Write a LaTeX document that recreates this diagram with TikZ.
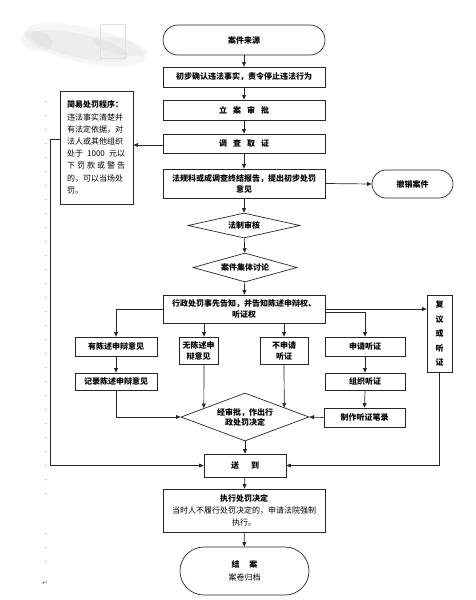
\documentclass[tikz,border=0pt]{standalone}
\usepackage{fontspec}
\setmainfont{Noto Sans CJK SC}
\newfontfamily\dejavu{DejaVu Sans}
\usetikzlibrary{shapes.geometric,arrows.meta,calc}
\begin{document}
\begin{tikzpicture}[x=1pt,y=-1pt,
  txt/.style={font=\fontsize{8}{11}\selectfont\bfseries},
  box/.style={draw=black!85, line width=0.7pt, rectangle, inner sep=0pt, align=center, txt},
  term/.style={box, rounded corners=#1},
  dia/.style={draw=black!85, line width=0.7pt, diamond, aspect=#1, inner sep=0pt, align=center, txt},
  ln/.style={draw=black!85, line width=0.7pt},
  arr/.style={ln, -{Triangle[length=4.5pt,width=3.8pt]}},
  pmark/.style={font=\dejavu\fontsize{4}{4}\selectfont, text=black!35, inner sep=0pt}
]
\useasboundingbox (0,0) rectangle (476,600);

% faint smudge at top left
\begin{scope}[shift={(85,45)}, rotate=-12]
  \fill[black, opacity=0.035] (0,0) ellipse (62 and 18);
  \fill[black, opacity=0.035] (-5,2) ellipse (50 and 12);
  \fill[black, opacity=0.04] (-48,6) ellipse (16 and 10);
  \fill[black, opacity=0.03] (35,-6) ellipse (28 and 8);
\end{scope}
\draw[black!12, line width=0.4pt] (100,24) rectangle (125,58);

% paragraph marks in left margin
\foreach \yy in {102,116,...,506,534,548,562}
  \node[pmark] (m\yy) at (46,\yy) {↵};
\node[pmark, font=\dejavu\fontsize{7}{7}\selectfont, text=black!60] (mend) at (45,583) {↵};

% main column
\node[term=15, minimum width=162pt, minimum height=30pt] (src) at (244,40) {案件来源};
\node[box, minimum width=162pt, minimum height=20pt] (s1) at (244,77) {初步确认违法事实，责令停止违法行为};
\node[box, minimum width=162pt, minimum height=20pt] (s2) at (244,110) {立\hspace{6pt}案\hspace{6pt}审\hspace{6pt}批};
\node[box, minimum width=162pt, minimum height=19pt] (s3) at (244,143.5) {调\hspace{6pt}查\hspace{6pt}取\hspace{6pt}证};
\node[box, minimum width=162pt, minimum height=29pt] (s4) at (244,183.5) {法规科或成调查终结报告，提出初步处罚\\意见};
\node[term=14, minimum width=81pt, minimum height=28pt] (cancel) at (412.5,184) {撤销案件};
\node[dia=4, minimum width=112pt, minimum height=25pt] (d1) at (244,225.5) {法制审核};
\node[dia=4, minimum width=104pt, minimum height=29pt] (d2) at (245,267.5) {案件集体讨论};
\node[box, minimum width=162pt, minimum height=28pt] (s5) at (244,309) {行政处罚事先告知，并告知陈述申辩权、\\听证权};
\node[box, minimum width=25pt, minimum height=77pt, font=\fontsize{8}{14.5}\selectfont\bfseries] (fy) at (439.5,333.5) {复\\议\\或\\听\\证};

% branches
\node[box, minimum width=82pt, minimum height=19pt] (a1) at (116,346.5) {有陈述申辩意见};
\node[box, minimum width=39pt, minimum height=27pt] (a2) at (198.5,350.5) {无陈述申\\辩意见};
\node[box, minimum width=48pt, minimum height=27pt] (a3) at (284,350.5) {不申请\\听证};
\node[box, minimum width=80pt, minimum height=19pt] (a4) at (365,346.5) {申请听证};
\node[box, minimum width=82pt, minimum height=17pt] (b1) at (116,381.5) {记录陈述申辩意见};
\node[box, minimum width=80pt, minimum height=17pt] (b4) at (365,381.5) {组织听证};
\node[box, minimum width=81pt, minimum height=19pt] (c4) at (364.5,417.5) {制作听证笔录};
\node[dia=2.67, minimum width=128pt, minimum height=48pt, font=\fontsize{8}{10}\selectfont\bfseries] (d3) at (245,417) {经审批，作出行\\政处罚决定};

% lower column
\node[box, minimum width=82pt, minimum height=23pt] (send) at (245,465.5) {送\hspace{12pt}到};
\node[box, minimum width=162pt, minimum height=43pt, font=\fontsize{8}{12}\selectfont] (exe) at (244,510.5) {\textbf{执行处罚决定}\\当时人不履行处罚决定的，申请法院强制\\执行。};
\node[term=24, minimum width=129pt, minimum height=48pt, font=\fontsize{8}{13}\selectfont] (fin) at (244.5,571) {\textbf{结\hspace{10pt}案}\\案卷归档};

% simple procedure box
\node[box, line width=0.9pt, minimum width=73pt, minimum height=113pt, text width=59pt, align=left, font=\fontsize{8}{12.2}\selectfont] (simple) at (96.5,147.5)
 {\textbf{简易处罚程序：}\\违法事实清楚并\\有法定依据，对\\法人或其他组织\\\makebox[58pt][s]{处于\hfill 1000\hfill 元以}\\\makebox[58pt][s]{下\hfill 罚\hfill 款\hfill 或\hfill 警\hfill 告}\\的，可以当场处\\罚。};

% connectors, main column
\draw[arr] (src) -- (s1);
\draw[arr] (s1) -- (s2);
\draw[arr] (s2) -- (s3);
\draw[arr] (s3) -- (s4);
\draw[arr] (s4) -- (d1);
\draw[arr] (d1) -- (d2);
\draw[arr] (d2) -- (s5);
\draw[arr] (s4.east) -- (cancel.west);

\coordinate (p1) at ($(s3.west)+(0,1.5)$);
\draw[arr] (p1) -- (p1 -| simple.east);

\coordinate (q0) at ($(simple.north west)+(0,49)$);
\draw[arr] (q0) -- ++(-9,0) |- (send.west);
\draw[arr] (fy.south) |- (send.east);

% branches from notice box
\draw[arr] (s5.west) -| (a1.north);
\draw[arr] (s5.east) -- (s5.east -| fy.west);
\coordinate (s5r) at ($(s5.east)+(0,3)$);
\draw[arr] (s5r) -| (a4.north);
\coordinate (a2t) at ($(a2.north)+(5.5,0)$);
\coordinate (a2b) at ($(a2.south)+(5.5,0)$);
\draw[arr] (a2t |- s5.south) -- (a2t);
\draw[arr] (a3.north |- s5.south) -- (a3.north);

\draw[arr] (a1) -- (b1);
\draw[arr] (a4) -- (b4);
\draw[arr] (b4.south) -- (c4.north);
\draw[arr] (c4.west) -- (d3.east);
\draw[arr] (b1.south) |- (d3.west);
\draw[arr] (a2b) -- ($(d3.west)!0.36!(d3.north)$);
\draw[arr] (a3.south) -- ($(d3.north)!0.61!(d3.east)$);

\draw[arr] (d3.south) -- (send.north);
\draw[arr] (send) -- (exe);
\draw[arr] (exe) -- (fin);
\end{tikzpicture}
\end{document}
